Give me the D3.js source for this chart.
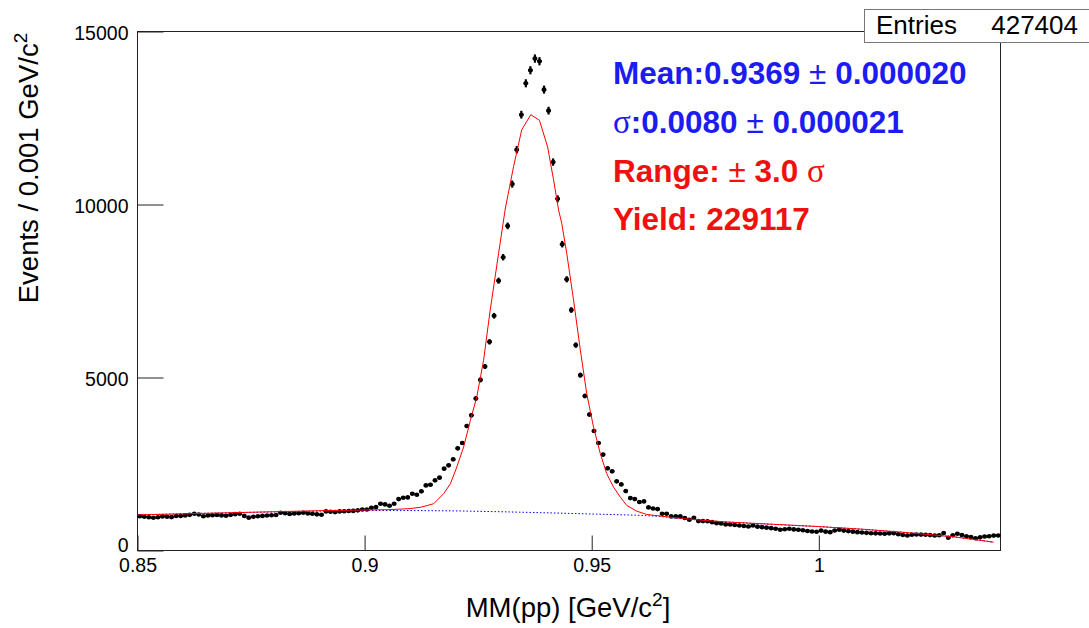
<!DOCTYPE html>
<html>
<head>
<meta charset="utf-8">
<title>MM(pp) fit</title>
<style>
  body { margin: 0; background: #fff; }
  text { font-family: "Liberation Sans", Arial, Helvetica, sans-serif; }
</style>
</head>
<body>
<script src="https://d3js.org/d3.v7.min.js"></script>
<script>
// histogram: 190 bins of 0.001 GeV/c2 starting at 0.85
var binLow = 0.85, binWidth = 0.001;
var counts = [
  990, 975, 960, 945, 960, 985, 975, 965, 995, 1000,
  1010, 1030, 1060, 1040, 990, 1010, 1020, 1025, 1015, 1005,
  1030, 1050, 1060, 1000, 950, 975, 990, 1000, 1010, 1020,
  1025, 1090, 1080, 1055, 1070, 1075, 1090, 1070, 1060, 1045,
  1035, 1130, 1120, 1110, 1130, 1135, 1140, 1145, 1160, 1187,
  1187, 1236, 1254, 1352, 1332, 1294, 1352, 1486, 1526, 1535,
  1641, 1612, 1709, 1882, 1902, 2027, 2105, 2365, 2461, 2635,
  2953, 3107, 3599, 3909, 4392, 4931, 5318, 6031, 6784, 7798,
  8476, 9382, 10590, 11583, 12596, 13503, 13880, 14218, 14140, 13320,
  12712, 11226, 10164, 8853, 7838, 6950, 5936, 5068, 4467, 3929,
  3454, 3107, 2771, 2374, 2288, 1998, 1911, 1717, 1514, 1486,
  1400, 1419, 1245, 1216, 1196, 1062, 1062, 985, 985, 985,
  940, 890, 946, 850, 850, 845, 820, 790, 780, 755,
  750, 735, 724, 710, 695, 724, 690, 675, 660, 646,
  630, 600, 615, 628, 610, 600, 585, 565, 550, 540,
  575, 545, 530, 580, 600, 575, 560, 545, 530, 520,
  510, 500, 495, 490, 483, 495, 501, 470, 450, 434,
  455, 463, 460, 454, 445, 434, 440, 505, 367, 440,
  483, 450, 414, 390, 356, 380, 405, 410, 430, 434
];

// total fit (red)
var fitX = [0.850, 0.860, 0.870, 0.880, 0.890, 0.900, 0.905, 0.910, 0.9125, 0.9152,
            0.9174, 0.9189, 0.9203, 0.9218, 0.9233, 0.9247, 0.9262, 0.9276, 0.9295, 0.9310,
            0.9328, 0.9346, 0.9366, 0.9385, 0.9403, 0.9416, 0.9427, 0.9434, 0.9445, 0.9460,
            0.9475, 0.9489, 0.9504, 0.9519, 0.9533, 0.9548, 0.9563, 0.9577, 0.9599, 0.9621,
            0.9651, 0.970, 0.975, 0.980, 0.990, 1.000, 1.010, 1.020, 1.030, 1.0385];
var fitY = [1030, 1060, 1090, 1120, 1150, 1170, 1180, 1210, 1254, 1352,
            1641, 1931, 2413, 2992, 3764, 4440, 5500, 6900, 8591, 9900,
            11100, 12162, 12596, 12432, 11660, 10714, 9846, 9460, 8591, 7239,
            5791, 4537, 3570, 2800, 2220, 1833, 1544, 1303, 1138, 1042,
            995, 925, 868, 822, 757, 692, 612, 512, 392, 240];

// background (blue dotted)
var bkgX = [0.850, 0.870, 0.890, 0.900, 0.910, 0.920, 0.930, 0.940, 0.950, 0.960,
            0.965, 0.970, 0.975, 0.980, 0.990, 1.000, 1.010, 1.020, 1.030, 1.0385];
var bkgY = [1030, 1090, 1140, 1155, 1155, 1145, 1120, 1090, 1055, 1020,
            985, 920, 865, 820, 755, 690, 610, 510, 390, 240];

var xTicks = [0.85, 0.9, 0.95, 1];
var yTicks = [0, 5000, 10000, 15000];
var entries = 427404;

var W = 1089, H = 628;
var x = d3.scaleLinear().domain([0.85, 1.04]).range([137.5, 1000.5]);
var y = d3.scaleLinear().domain([0, 15000]).range([550.5, 31.5]);

var svg = d3.select("body").append("svg")
    .attr("width", W).attr("height", H);

svg.append("rect").attr("width", W).attr("height", H).attr("fill", "#fff");

// frame
svg.append("rect")
    .attr("x", x.range()[0]).attr("y", y.range()[1])
    .attr("width", x.range()[1] - x.range()[0])
    .attr("height", y.range()[0] - y.range()[1])
    .attr("fill", "none").attr("stroke", "#222").attr("stroke-width", 1);

// axes
var xAxis = svg.append("g")
    .attr("transform", "translate(0," + y.range()[0] + ")")
    .call(d3.axisBottom(x).tickValues(xTicks).tickSizeInner(-15).tickSizeOuter(0)
      .tickPadding(8).tickFormat(d3.format("")));
var yAxis = svg.append("g")
    .attr("transform", "translate(" + x.range()[0] + ",0)")
    .call(d3.axisLeft(y).tickValues(yTicks).tickSizeInner(-26).tickSizeOuter(0)
      .tickPadding(9).tickFormat(d3.format("d")));

[xAxis, yAxis].forEach(function(g) {
  g.select(".domain").remove();
  g.selectAll(".tick line").attr("stroke", "#222");
  g.selectAll(".tick text")
    .attr("font-family", "Liberation Sans, Arial, sans-serif")
    .attr("font-size", 19.5).attr("fill", "#000");
});
// ROOT lifts the label at the axis origin so it clears the x labels
yAxis.selectAll(".tick text").attr("dy", function(d) { return d === 0 ? "0.05em" : "0.4em"; });

// data points with error bars
var pts = svg.append("g").attr("fill", "#000").attr("stroke", "#000");
counts.forEach(function(v, i) {
  var lo = binLow + i * binWidth, hi = lo + binWidth, c = lo + binWidth / 2;
  var e = Math.sqrt(v);
  pts.append("line")
    .attr("x1", x(lo)).attr("x2", x(hi)).attr("y1", y(v)).attr("y2", y(v))
    .attr("stroke-width", 2.4);
  pts.append("line")
    .attr("x1", x(c)).attr("x2", x(c)).attr("y1", y(v - e)).attr("y2", y(v + e))
    .attr("stroke-width", 2.2);
  pts.append("circle")
    .attr("cx", x(c)).attr("cy", y(v)).attr("r", 2.3).attr("stroke", "none");
});

// fit curves
var line = d3.line().x(function(d) { return x(d[0]); }).y(function(d) { return y(d[1]); });

svg.append("path")
    .datum(d3.zip(bkgX, bkgY))
    .attr("d", line)
    .attr("fill", "none").attr("stroke", "#0000ff").attr("stroke-width", 1)
    .attr("stroke-dasharray", "1.5,2");

svg.append("path")
    .datum(d3.zip(fitX, fitY))
    .attr("d", line)
    .attr("fill", "none").attr("stroke", "#ff0000").attr("stroke-width", 1);

// fit results text
var blue = "#1c1cf0", red = "#f01010";
var info = [
  { parts: [["Mean:0.9369 ", "b"], ["\u00b1", "pm"], [" 0.000020", "b"]], color: blue, y: 84 },
  { parts: [["\u03c3", "sig"], [":0.0080 ", "b"], ["\u00b1", "pm"], [" 0.000021", "b"]], color: blue, y: 133 },
  { parts: [["Range: ", "b"], ["\u00b1", "pm"], [" 3.0 ", "b"], ["\u03c3", "sig"]], color: red, y: 182 },
  { parts: [["Yield: 229117", "b"]], color: red, y: 230 }
];
info.forEach(function(l) {
  var t = svg.append("text").attr("x", 613).attr("y", l.y)
      .attr("fill", l.color).attr("font-size", 31.5).attr("xml:space", "preserve");
  l.parts.forEach(function(p) {
    var s = t.append("tspan").text(p[0]);
    if (p[1] === "b") s.attr("font-weight", "bold");
    if (p[1] === "pm") s.attr("font-weight", "normal");
    if (p[1] === "sig") s.attr("font-weight", "normal")
        .attr("font-family", "Liberation Serif, Times New Roman, serif").attr("font-size", 33);
  });
});

// axis titles
var yt = svg.append("text")
    .attr("transform", "translate(38,168) rotate(-90)")
    .attr("text-anchor", "middle").attr("font-size", 27.5).attr("fill", "#000");
yt.append("tspan").text("Events / 0.001 GeV/c");
yt.append("tspan").text("2").attr("font-size", 19).attr("dy", -11);

var xt = svg.append("text")
    .attr("x", 568).attr("y", 617)
    .attr("text-anchor", "middle").attr("font-size", 27.5).attr("fill", "#000");
xt.append("tspan").text("MM(pp) [GeV/c");
xt.append("tspan").text("2").attr("font-size", 19).attr("dy", -11);
xt.append("tspan").text("]").attr("dy", 11);

// stats box
svg.append("rect")
    .attr("x", 864.5).attr("y", 9.5).attr("width", 240).attr("height", 33)
    .attr("fill", "#fff").attr("stroke", "#777").attr("stroke-width", 1);
svg.append("text").attr("x", 876).attr("y", 34).attr("font-size", 26)
    .attr("fill", "#000").text("Entries");
svg.append("text").attr("x", 1078).attr("y", 34).attr("font-size", 26)
    .attr("text-anchor", "end").attr("fill", "#000").text(entries);
</script>
</body>
</html>
